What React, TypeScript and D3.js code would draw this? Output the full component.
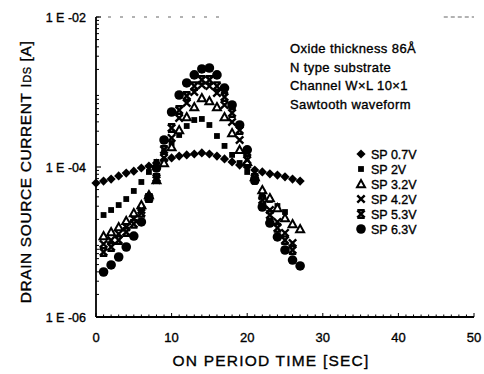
import React from 'react'
import * as d3 from 'd3'

// time axis (sec)
const tDiamond = d3.range(0, 28)
const tSquare = d3.range(1, 26)
const tTriangle = d3.range(1, 28)
const tCross = d3.range(1, 27)
const tStar = d3.range(1, 27)
const tCircle = d3.range(1, 28)

// drain source current (A)
const sp07 = [6.1e-5, 6.5e-5, 6.9e-5, 7.6e-5, 8.3e-5, 8.8e-5, 9.7e-5, 1.03e-4, 1.13e-4, 1.24e-4, 1.32e-4, 1.40e-4, 1.45e-4, 1.49e-4, 1.54e-4, 1.49e-4, 1.40e-4, 1.28e-4, 1.17e-4, 1.06e-4, 1.0e-4, 9.1e-5, 8.6e-5, 8.1e-5, 7.8e-5, 7.4e-5, 6.9e-5, 6.5e-5]
const sp2 = [2.29e-5, 2.67e-5, 3.11e-5, 3.74e-5, 4.79e-5, 6.31e-5, 8.58e-5, 1.17e-4, 1.58e-4, 2.09e-4, 2.67e-4, 3.52e-4, 4.23e-4, 4.37e-4, 3.63e-4, 2.59e-4, 1.91e-4, 1.45e-4, 1.13e-4, 8.58e-5, 6.31e-5, 4.64e-5, 3.63e-5, 3.02e-5, 2.51e-5]
const sp32 = [1.20e-5, 1.36e-5, 1.58e-5, 1.91e-5, 2.44e-5, 3.11e-5, 4.23e-5, 6.71e-5, 1.13e-4, 1.85e-4, 3.11e-4, 4.64e-4, 6.31e-4, 8.32e-4, 7.59e-4, 6.31e-4, 4.64e-4, 2.84e-4, 1.69e-4, 1.17e-4, 7.36e-5, 4.94e-5, 3.86e-5, 2.84e-5, 2.09e-5, 1.74e-5, 1.49e-5]
const sp42 = [9.4e-6, 1.06e-5, 1.28e-5, 1.58e-5, 2.03e-5, 2.67e-5, 3.86e-5, 6.71e-5, 1.32e-4, 2.44e-4, 4.50e-4, 7.13e-4, 1.0e-3, 1.24e-3, 1.20e-3, 9.7e-4, 6.71e-4, 3.98e-4, 2.29e-4, 1.24e-4, 6.71e-5, 4.11e-5, 2.67e-5, 1.85e-5, 1.32e-5, 9.7e-6]
const sp53 = [7.36e-6, 8.58e-6, 1.06e-5, 1.36e-5, 1.74e-5, 2.44e-5, 3.86e-5, 7.13e-5, 1.69e-4, 3.31e-4, 5.75e-4, 8.84e-4, 1.20e-3, 1.45e-3, 1.45e-3, 1.20e-3, 8.58e-4, 5.25e-4, 3.11e-4, 1.58e-4, 7.13e-5, 3.63e-5, 2.29e-5, 1.54e-5, 1.06e-5, 7.82e-6]
const sp63 = [3.98e-6, 4.94e-6, 6.31e-6, 8.58e-6, 1.20e-5, 1.85e-5, 3.86e-5, 9.7e-5, 2.29e-4, 5.41e-4, 9.12e-4, 1.32e-3, 1.69e-3, 2.03e-3, 2.09e-3, 1.69e-3, 1.13e-3, 6.71e-4, 3.63e-4, 1.69e-4, 6.71e-5, 2.93e-5, 1.79e-5, 1.17e-5, 7.82e-6, 5.75e-6, 4.79e-6]

const xTicks = [0, 10, 20, 30, 40, 50]
const yTicks = [1e-2, 1e-4, 1e-6]
const yTickLabels = ['1 E -02', '1 E -04', '1 E -06']
const notes = ['Oxide thickness 86Å', 'N type substrate', 'Channel W×L 10×1', 'Sawtooth waveform']
const legendLabels = ['SP  0.7V', 'SP  2V', 'SP  3.2V', 'SP  4.2V', 'SP  5.3V', 'SP  6.3V']

const FONT = '"Liberation Sans", Arial, Helvetica, sans-serif'

function Marker({ kind, x, y }: { kind: string; x: number; y: number }) {
  const c = '#000'
  if (kind === 'diamond') {
    const s = 4.6
    return <path d={`M${x},${y - s}L${x + s},${y}L${x},${y + s}L${x - s},${y}Z`} fill={c} />
  }
  if (kind === 'square') {
    return <rect x={x - 2.9} y={y - 2.9} width={5.8} height={5.8} fill={c} />
  }
  if (kind === 'triangle') {
    const s = 4
    return (
      <path d={`M${x},${y - s}L${x + s},${y + s * 0.8}L${x - s},${y + s * 0.8}Z`}
        fill="#fff" stroke={c} strokeWidth={2} strokeLinejoin="miter" />
    )
  }
  if (kind === 'cross') {
    const s = 3.7
    return <path d={`M${x - s},${y - s}L${x + s},${y + s}M${x + s},${y - s}L${x - s},${y + s}`} stroke={c} strokeWidth={2.4} />
  }
  if (kind === 'star') {
    const s = 3.7
    return (
      <path d={`M${x - s},${y - s}L${x + s},${y + s}M${x + s},${y - s}L${x - s},${y + s}M${x - s},${y - s}H${x + s}M${x - s},${y + s}H${x + s}`}
        stroke={c} strokeWidth={2.4} />
    )
  }
  return <circle cx={x} cy={y} r={4.8} fill={c} />
}

export default function App() {
  const width = 484
  const height = 374
  const x = d3.scaleLinear().domain([0, 50]).range([96, 474])
  const y = d3.scaleLog().domain([1e-6, 1e-2]).range([317, 17])

  const series = [
    { kind: 'diamond', t: tDiamond, v: sp07 },
    { kind: 'square', t: tSquare, v: sp2 },
    { kind: 'triangle', t: tTriangle, v: sp32 },
    { kind: 'cross', t: tCross, v: sp42 },
    { kind: 'star', t: tStar, v: sp53 },
    { kind: 'circle', t: tCircle, v: sp63 },
  ]

  const x0 = x(0)
  const x1 = x(50)
  const yb = y(1e-6)
  const yt = y(1e-2)

  // log minor ticks
  const yMinor: number[] = []
  for (let e = -6; e < -2; e++) for (let m = 2; m <= 9; m++) yMinor.push(m * Math.pow(10, e))
  const xMinor = d3.range(0, 51)

  const ink = { stroke: '#000', strokeWidth: 0.35 }

  return (
    <svg width={width} height={height} style={{ position: 'fixed', left: 0, top: 0, background: '#fff' }}
      fontFamily={FONT}>
      {/* axes */}
      <line x1={x0} x2={x1} y1={yb} y2={yb} stroke="#000" strokeWidth={1.8} />
      <line x1={x0} x2={x0} y1={yt} y2={yb} stroke="#000" strokeWidth={1.8} />
      <line x1={x0} x2={x(17)} y1={yt} y2={yt} stroke="#000" strokeWidth={1.2} strokeDasharray="3 9" opacity={0.6} />
      <line x1={x(46)} x2={x1} y1={yt} y2={yt} stroke="#000" strokeWidth={1.2} strokeDasharray="4 3" opacity={0.6} />
      {xMinor.map(t => (
        <line key={'xm' + t} x1={x(t)} x2={x(t)} y1={yb} y2={yb - (t % 10 === 0 ? 4 : 2.5)} stroke="#000" strokeWidth={1} />
      ))}
      {yMinor.map((v, i) => (
        <line key={'ym' + i} x1={x0} x2={x0 + 3} y1={y(v)} y2={y(v)} stroke="#000" strokeWidth={1} />
      ))}
      {yTicks.map(v => (
        <line key={'yM' + v} x1={x0} x2={x0 + 5} y1={y(v)} y2={y(v)} stroke="#000" strokeWidth={1.2} />
      ))}

      {/* tick labels */}
      {xTicks.map(t => (
        <text key={'xt' + t} x={x(t)} y={342} textAnchor="middle" fontSize={13} {...ink}>{t}</text>
      ))}
      {yTicks.map((v, i) => (
        <text key={'yt' + v} x={86} y={y(v) + 4.5} textAnchor="end" fontSize={12.5} {...ink}>{yTickLabels[i]}</text>
      ))}

      {/* axis titles */}
      <text x={271} y={366} textAnchor="middle" fontSize={15.5} letterSpacing={1.2} {...ink}>ON PERIOD TIME  [SEC]</text>
      <text transform={`translate(31,${172}) rotate(-90)`} textAnchor="middle" fontSize={15.5} letterSpacing={0.6} {...ink}>
        DRAIN SOURCE CURRENT I<tspan fontSize={11}>DS</tspan>  [A]
      </text>

      {/* annotation */}
      {notes.map(n => (
        <text key={n} x={290} y={53 + notes.indexOf(n) * 18.5} fontSize={13} letterSpacing={0.4} {...ink}>{n}</text>
      ))}

      {/* data */}
      {series.map(s => (
        <g key={s.kind}>
          {s.v.map((v, i) => (
            <Marker key={i} kind={s.kind} x={x(s.t[i])} y={y(v)} />
          ))}
        </g>
      ))}

      {/* legend */}
      {series.map((s, i) => (
        <g key={'lg' + s.kind}>
          <Marker kind={s.kind} x={361} y={154 + i * 15} />
          <text x={371} y={158.5 + i * 15} fontSize={12.5} {...ink}>{legendLabels[i]}</text>
        </g>
      ))}
    </svg>
  )
}
